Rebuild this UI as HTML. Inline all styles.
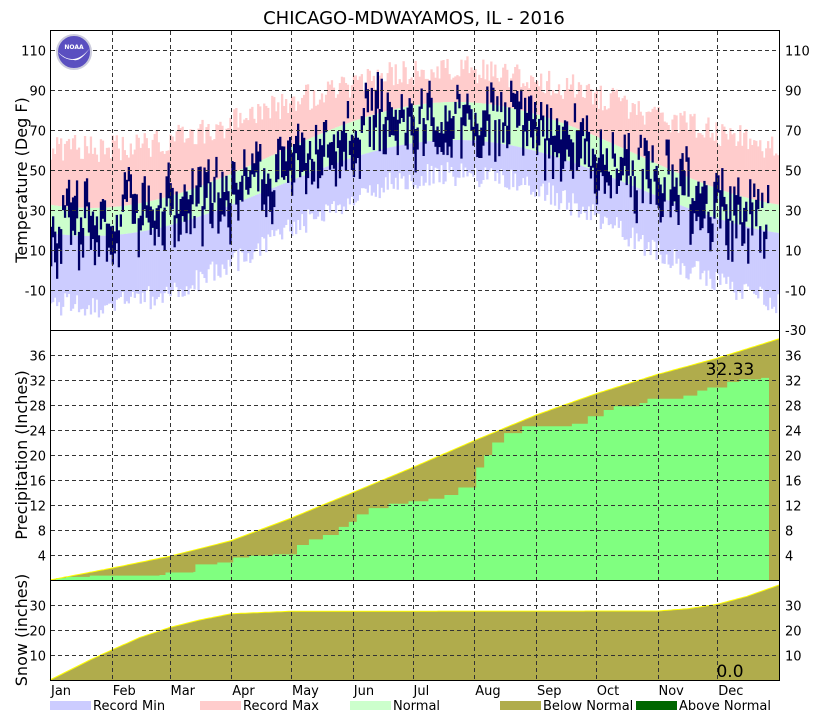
<!DOCTYPE html>
<html><head><meta charset="utf-8"><style>
body{margin:0;background:#fff;}
svg{display:block;font-family:"DejaVu Sans","Liberation Sans",sans-serif;}
</style></head><body>
<svg id="s" width="829" height="720" xmlns="http://www.w3.org/2000/svg">
<rect width="829" height="720" fill="#fff"/>
<g id="data"></g>
<g id="grid" stroke="#333" stroke-dasharray="4,3" stroke-width="1" fill="none"></g>
<rect x="50.5" y="30.5" width="729" height="650" fill="none" stroke="#000"/>
<line x1="50" y1="330.5" x2="780" y2="330.5" stroke="#000"/>
<line x1="50" y1="580.5" x2="780" y2="580.5" stroke="#000"/>
<text x="414" y="24" font-size="18" text-anchor="middle">CHICAGO-MDWAYAMOS, IL - 2016</text>
<g font-size="13" id="labels"></g>
<text transform="translate(27,180) rotate(-90)" font-size="16" text-anchor="middle">Temperature (Deg F)</text>
<text transform="translate(27,455) rotate(-90)" font-size="16" text-anchor="middle">Precipitation (Inches)</text>
<text transform="translate(27,630) rotate(-90)" font-size="16" text-anchor="middle">Snow (inches)</text>
<text x="730" y="375" font-size="17" text-anchor="middle">32.33</text>
<text x="730" y="677" font-size="17" text-anchor="middle">0.0</text>
<circle cx="74" cy="52" r="17" fill="#5a4fc0" stroke="#ccd" stroke-width="2"/>
<path d="M58,52 Q74,68 90,48 Q80,62 74,60 Q64,60 58,52Z" fill="#fff"/>
<text x="74" y="49" font-size="6" fill="#fff" text-anchor="middle" font-weight="bold">NOAA</text>
<g font-size="13">
<rect x="50" y="701" width="41" height="9" fill="#ccccff"/><text x="93" y="710">Record Min</text>
<rect x="200" y="701" width="41" height="9" fill="#ffcccc"/><text x="243" y="710">Record Max</text>
<rect x="350" y="701" width="41" height="9" fill="#ccffcc"/><text x="393" y="710">Normal</text>
<rect x="500" y="701" width="41" height="9" fill="#b0ac4c"/><text x="543" y="710">Below Normal</text>
<rect x="636" y="701" width="41" height="9" fill="#006600"/><text x="679" y="710">Above Normal</text>
</g>
</svg>
<script>
var NS="http://www.w3.org/2000/svg";
function el(p,t,a,txt){var e=document.createElementNS(NS,t);for(var k in a)e.setAttribute(k,a[k]);if(txt!=null)e.textContent=txt;p.appendChild(e);return e;}
var D=document.getElementById('data'),G=document.getElementById('grid'),L=document.getElementById('labels');
var seed=11;function rnd(){seed=(seed*16807)%2147483647;return seed/2147483647;}
var dx=729/366;function X(d){return 50+d*dx;}
function ty(t){return 330-(t+30)*2;}
function season(d,lo,hi){return lo+(hi-lo)*(0.5-0.5*Math.cos(2*Math.PI*(d-20)/366));}
var rmin='',rmax='',nor='',act='';
var prevHi=30;
for(var d=0;d<366;d++){
 var x=X(d),w=dx+0.3;
 var rmx=season(d,58,97)+rnd()*14-4, rmn=season(d,-16,50)+rnd()*12-8;
 var nh=season(d,31,84),nl=season(d,17,65);
 rmax+='<rect x="'+x.toFixed(1)+'" y="'+ty(rmx).toFixed(1)+'" width="'+w.toFixed(1)+'" height="'+(ty(nh)-ty(rmx)).toFixed(1)+'" fill="#ffcccc"/>';
 nor+='<rect x="'+x.toFixed(1)+'" y="'+ty(nh).toFixed(1)+'" width="'+w.toFixed(1)+'" height="'+(ty(nl)-ty(nh)).toFixed(1)+'" fill="#ccffcc"/>';
 rmin+='<rect x="'+x.toFixed(1)+'" y="'+ty(nl).toFixed(1)+'" width="'+w.toFixed(1)+'" height="'+(ty(rmn)-ty(nl)).toFixed(1)+'" fill="#ccccff"/>';
 if(d<361){
  var base=season(d,30,84)+(rnd()-0.5)*40;
  var hi=0.35*prevHi+0.65*base+(rnd()-0.5)*10;prevHi=hi;
  var lo=hi-6-rnd()*16;
  act+='<rect x="'+x.toFixed(1)+'" y="'+ty(hi).toFixed(1)+'" width="'+w.toFixed(1)+'" height="'+(ty(lo)-ty(hi)).toFixed(1)+'" fill="#000066"/>';
 }
}
D.insertAdjacentHTML('beforeend',rmax+nor+rmin+act);
function interp(pts,d){for(var i=1;i<pts.length;i++){if(d<=pts[i][0]){var a=pts[i-1],b=pts[i];return a[1]+(b[1]-a[1])*(d-a[0])/(b[0]-a[0]);}}return pts[pts.length-1][1];}
function step(pts,d){var v=0;for(var i=0;i<pts.length;i++){if(pts[i][0]<=d)v=pts[i][1];}return v;}
var pn=[[0,0],[31,1.9],[60,3.8],[91,6.3],[121,9.9],[152,14],[182,18],[213,22.3],[244,26.4],[274,29.8],[305,32.9],[335,35.5],[366,38.6]];
var pa=[[0,0],[3,0.3],[8,0.5],[20,0.7],[55,0.8],[58,1.2],[72,1.3],[73,2.5],[84,2.8],[92,3.6],[100,3.9],[112,4.1],[124,5.6],[130,6.5],[137,7.2],[145,8.5],[150,9.3],[154,10.5],[160,11.5],[170,12.2],[180,12.6],[190,13.0],[198,13.6],[205,14.8],[214,18],[218,20],[222,22],[228,23.5],[237,24.6],[262,25],[270,26.2],[278,27.2],[283,27.8],[296,28.3],[300,29],[318,29.5],[325,30.3],[330,30.8],[340,31.7],[346,32.1],[357,32.33]];
var pp='M50,580 ',ap='M50,580 ',pl='M50,580 ';
for(var d=0;d<=366;d++){var s='L'+X(d).toFixed(1)+','+(580-interp(pn,d)*6.25).toFixed(1)+' ';pp+=s;pl+=s;}
pp+='L780,580Z';
for(var d=0;d<361;d++){var y=(580-step(pa,d)*6.25).toFixed(1);ap+='L'+X(d).toFixed(1)+','+y+' L'+X(d+1).toFixed(1)+','+y+' ';}
ap+='L'+X(361).toFixed(1)+',580Z';
el(D,'path',{d:pp,fill:'#b0ac4c'});
el(D,'path',{d:ap,fill:'#80ff80'});
el(D,'path',{d:pl,fill:'none',stroke:'#ffff00','stroke-width':1});
var sn=[[0,0],[20,8],[31,12],[45,17],[60,21],[75,24],[91,26.5],[121,27.5],[305,27.6],[320,28.5],[335,30.3],[350,33.5],[366,38]];
var sp='M50,680 ';
for(var d=0;d<=366;d++){sp+='L'+X(d).toFixed(1)+','+(680-interp(sn,d)*2.5).toFixed(1)+' ';}
var sl=sp;sp+='L780,680Z';
el(D,'path',{d:sp,fill:'#b0ac4c'});
el(D,'path',{d:sl,fill:'none',stroke:'#ffff00','stroke-width':1});
var mstart=[0,31,60,91,121,152,182,213,244,274,305,335];
var mn=['Jan','Feb','Mar','Apr','May','Jun','Jul','Aug','Sep','Oct','Nov','Dec'];
for(var i=0;i<12;i++){var x=Math.round(X(mstart[i]))+0.5;if(i>0)el(G,'line',{x1:x,y1:31,x2:x,y2:680});el(L,'text',{x:X(mstart[i])+1,y:695},mn[i]);}
[110,90,70,50,30,10,-10].forEach(function(t){var y=ty(t)+0.5;el(G,'line',{x1:51,y1:y,x2:779,y2:y});el(L,'text',{x:46,y:y+5,'text-anchor':'end'},t);el(L,'text',{x:785,y:y+5},t);});
el(L,'text',{x:785,y:335},'-30');
[4,8,12,16,20,24,28,32,36].forEach(function(p){var y=580-p*6.25+0.5;el(G,'line',{x1:51,y1:y,x2:779,y2:y});el(L,'text',{x:46,y:y+5,'text-anchor':'end'},p);el(L,'text',{x:785,y:y+5},p);});
[10,20,30].forEach(function(p){var y=680-p*2.5+0.5;el(G,'line',{x1:51,y1:y,x2:779,y2:y});el(L,'text',{x:46,y:y+5,'text-anchor':'end'},p);el(L,'text',{x:785,y:y+5},p);});
</script>
</body></html>
